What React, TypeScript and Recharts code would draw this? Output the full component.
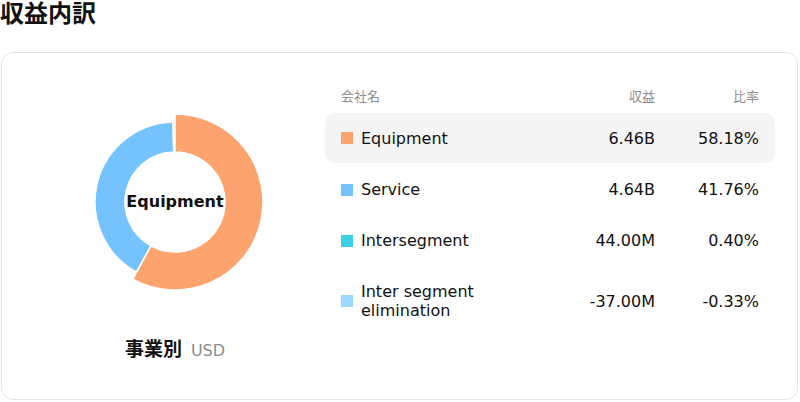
import { PieChart, Pie, Cell } from 'recharts';

const segments = ['Equipment', 'Service', 'Intersegment', 'Inter segment elimination'];
const revenue = [6.46e9, 4.64e9, 44e6, -37e6];
const revenueLabels = ['6.46B', '4.64B', '44.00M', '-37.00M'];
const shares = ['58.18%', '41.76%', '0.40%', '-0.33%'];
const COLORS = ['#fca36e', '#74c3fe', '#3ecfe5', '#9ad8fd'];

const FONT = '"DejaVu Sans", "Noto Sans CJK JP", sans-serif';
const ACTIVE = 0;

export default function App() {
    // negative values can't be drawn as slices
    const pieData = segments
        .map((name, i) => ({ name, value: revenue[i], color: COLORS[i] }))
        .filter(d => d.value > 0);

    const rowHeights = [51, 51, 51, 70];

    return (
        <div style={{ position: 'absolute', left: 0, top: 0, width: 800, height: 402, fontFamily: FONT, color: '#111' }}>
            <div style={{ position: 'absolute', left: 0, top: 2, fontSize: 24, fontWeight: 'bold', lineHeight: '24px' }}>
                収益内訳
            </div>
            <div style={{
                position: 'absolute', left: 1, top: 52, width: 795, height: 346,
                border: '1px solid #e2e2ec', borderRadius: 12
            }} />

            <div style={{ position: 'absolute', left: 25, top: 52 }}>
                <PieChart width={300} height={300} margin={{ top: 0, right: 0, bottom: 0, left: 0 }}>
                    {/* inactive slices */}
                    <Pie
                        data={pieData}
                        dataKey="value"
                        innerRadius={50}
                        outerRadius={80}
                        startAngle={90}
                        endAngle={-270}
                        isAnimationActive={false}
                    >
                        {pieData.map((d, i) => (
                            <Cell key={i} fill={i === ACTIVE ? 'none' : d.color} stroke={i === ACTIVE ? 'none' : '#fff'} strokeWidth={1.5} />
                        ))}
                    </Pie>
                    {/* active slice, drawn bigger */}
                    <Pie
                        data={pieData}
                        dataKey="value"
                        innerRadius={50}
                        outerRadius={88}
                        startAngle={90}
                        endAngle={-270}
                        isAnimationActive={false}
                    >
                        {pieData.map((d, i) => (
                            <Cell key={i} fill={i === ACTIVE ? d.color : 'none'} stroke={i === ACTIVE ? '#fff' : 'none'} strokeWidth={1.5} />
                        ))}
                    </Pie>
                </PieChart>
                <div style={{
                    position: 'absolute', left: 0, top: 140, width: 300, textAlign: 'center',
                    fontSize: 16, fontWeight: 'bold', lineHeight: '20px'
                }}>
                    {segments[ACTIVE]}
                </div>
            </div>

            <div style={{ position: 'absolute', left: 25, top: 337, width: 300, textAlign: 'center', lineHeight: '24px' }}>
                <span style={{ fontSize: 19, fontWeight: 'bold' }}>事業別</span>
                <span style={{ fontSize: 16, color: '#8c8c8c', marginLeft: 9 }}>USD</span>
            </div>

            <div style={{ position: 'absolute', left: 325, top: 80, width: 450 }}>
                <div style={{ display: 'flex', height: 30, alignItems: 'center', fontSize: 13, color: '#8e8e8e', padding: '0 16px' }}>
                    <div style={{ flex: 1 }}>会社名</div>
                    <div style={{ width: 120, textAlign: 'right' }}>収益</div>
                    <div style={{ width: 104, textAlign: 'right' }}>比率</div>
                </div>
                <div style={{ height: 3 }} />
                {segments.map((name, i) => (
                    <div key={name} style={{
                        display: 'flex', alignItems: 'center', height: i === ACTIVE ? 50 : rowHeights[i],
                        marginBottom: i === ACTIVE ? 1 : 0,
                        padding: '0 16px', fontSize: 16,
                        background: i === ACTIVE ? '#f4f4f4' : 'transparent', borderRadius: 10
                    }}>
                        <div style={{ width: 12, height: 12, background: COLORS[i], marginRight: 8, flexShrink: 0 }} />
                        <div style={{ flex: 1, lineHeight: '19px', paddingRight: 40 }}>{name}</div>
                        <div style={{ width: 120, textAlign: 'right' }}>{revenueLabels[i]}</div>
                        <div style={{ width: 104, textAlign: 'right' }}>{shares[i]}</div>
                    </div>
                ))}
            </div>
        </div>
    );
}
